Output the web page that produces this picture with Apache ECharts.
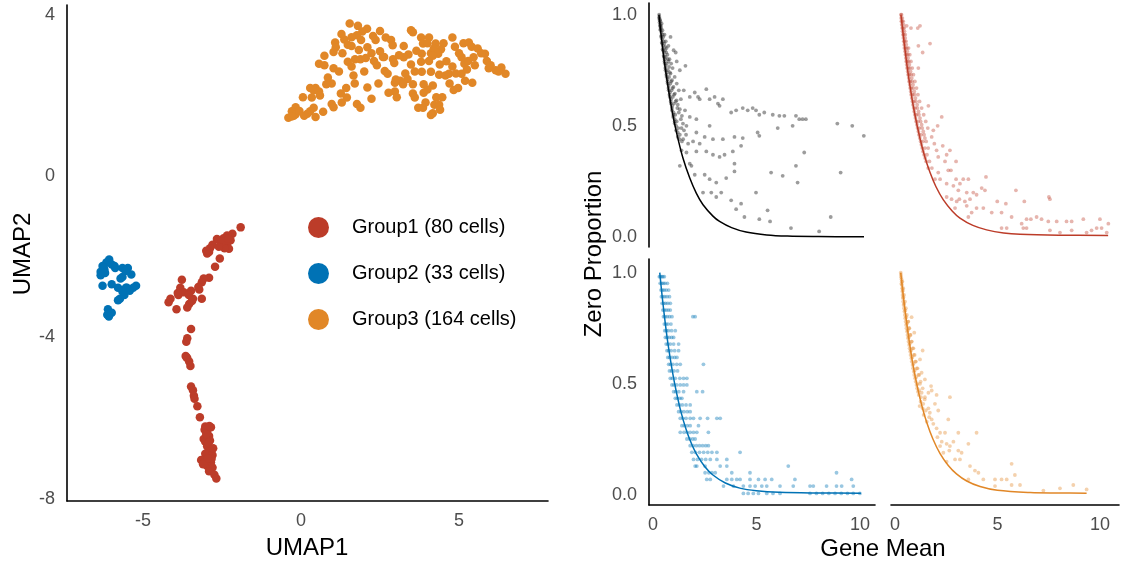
<!DOCTYPE html>
<html><head><meta charset="utf-8">
<script src="https://cdn.jsdelivr.net/npm/echarts@6/dist/echarts.min.js"></script>
<style>html,body{margin:0;padding:0;background:#fff}#c{width:1123px;height:567px}</style>
</head><body><div id="c"></div><script>
// ---------------- DATA ----------------
const groupNames = ['Group1 (80 cells)', 'Group2 (33 cells)', 'Group3 (164 cells)'];
const groupColors = ['#BC3C29', '#0072B5', '#E18727'];
const umapTicksX = [-5, 0, 5];
const umapTicksY = [-8, -4, 0, 4];
const propTicks = [0, 0.5, 1];
const meanTicks = [0, 5, 10];

const umapGroup1 = [
[-1.91,-1.27],[-2.17,-1.43],[-2.34,-1.47],[-2.45,-1.54],[-2.66,-1.56],[-2.23,-1.59],[-2.34,-1.70],[-2.28,-1.80],
[-2.42,-1.79],[-2.80,-1.70],[-2.88,-1.79],[-2.91,-1.88],[-2.97,-1.92],[-2.57,-2.04],[-2.72,-2.25],[-2.91,-2.52],
[-3.08,-2.54],[-3.14,-2.63],[-3.77,-2.57],[-3.82,-2.77],[-3.88,-2.95],[-3.71,-2.88],[-3.48,-2.84],[-3.22,-2.81],
[-3.14,-3.04],[-3.42,-3.04],[-3.54,-3.17],[-3.60,-3.26],[-4.19,-3.13],[-4.13,-3.04],[-3.94,-3.30],[-3.48,-3.79],
[-3.60,-4.02],[-3.63,-4.11],[-3.65,-4.46],[-3.60,-4.51],[-3.54,-4.60],[-3.50,-4.71],[-3.48,-5.22],[-3.42,-5.31],
[-3.39,-5.45],[-3.37,-5.52],[-3.28,-5.71],[-3.20,-5.98],[-3.03,-6.21],[-2.85,-6.23],[-2.97,-6.34],[-2.91,-6.45],
[-3.08,-6.52],[-3.03,-6.59],[-2.88,-6.56],[-2.97,-6.70],[-2.91,-6.83],[-3.03,-6.89],[-2.80,-6.92],[-3.16,-7.04],
[-3.05,-7.10],[-2.85,-7.10],[-2.97,-7.19],[-2.80,-7.23],[-2.91,-7.32],[-2.74,-7.41],[-2.68,-7.50],[-2.83,-7.01],
[-3.05,-6.29],[-2.93,-6.61],[-2.50,-1.62],[-2.60,-1.75],[-3.00,-1.85],[-3.90,-2.90],[-3.55,-2.95],[-3.62,-4.50],
[-3.00,-6.40],[-2.95,-7.00],[-2.90,-6.20],[-2.78,-6.75],[-3.10,-7.15],[-2.30,-1.55],[-3.45,-3.10],[-3.25,-2.75]
];
const umapGroup2 = [
[-6.07,-2.07],[-6.16,-2.14],[-5.99,-2.19],[-6.28,-2.23],[-5.90,-2.23],[-6.22,-2.32],[-6.34,-2.37],[-6.34,-2.46],
[-5.65,-2.28],[-5.48,-2.28],[-5.37,-2.44],[-5.65,-2.50],[-5.71,-2.54],[-5.99,-2.68],[-6.28,-2.72],[-5.79,-2.77],
[-5.51,-2.77],[-5.22,-2.72],[-5.31,-2.77],[-5.42,-2.84],[-5.59,-2.95],[-5.73,-3.04],[-5.79,-3.08],[-6.11,-3.30],
[-5.99,-3.39],[-6.13,-3.44],[-6.08,-3.48],[-6.24,-2.28],[-5.88,-2.28],[-5.54,-2.77],[-5.65,-2.86],[-6.20,-2.40],
[-5.55,-2.35]
];
const umapGroup3 = [
[1.54,3.79],[1.80,3.73],[2.09,3.66],[1.94,3.59],[1.77,3.50],[1.28,3.53],[1.37,3.39],[1.08,3.32],[1.48,3.26],
[2.28,3.48],[2.36,3.38],[2.68,3.44],[2.85,3.38],[3.48,3.62],[3.54,3.57],[3.80,3.44],[4.05,3.44],[3.86,3.29],
[4.26,3.29],[4.51,3.30],[4.79,3.44],[4.43,3.15],[4.87,3.21],[5.14,3.30],[5.31,3.32],[5.40,3.21],[5.59,3.17],
[5.82,3.04],[5.08,2.95],[5.46,2.95],[3.25,3.23],[3.65,3.11],[3.82,3.04],[4.11,3.05],[4.20,3.17],[4.34,3.04],
[3.40,3.02],[3.25,2.95],[2.91,2.90],[2.63,2.96],[2.23,3.05],[1.83,3.13],[1.60,3.23],[1.31,3.05],[1.03,3.08],
[0.74,2.99],[0.57,2.79],[0.74,2.75],[1.03,2.68],[1.48,2.84],[1.71,2.90],[1.88,2.90],[2.05,2.93],[2.31,2.86],
[2.59,2.96],[2.95,2.81],[3.48,2.77],[3.80,2.84],[4.05,2.86],[4.17,2.99],[4.39,2.77],[4.79,2.72],[5.17,2.79],
[5.29,2.86],[5.88,2.86],[5.94,2.68],[6.16,2.63],[6.34,2.70],[6.47,2.54],[1.60,2.72],[1.66,2.50],[2.65,2.61],
[2.74,2.54],[3.82,2.59],[4.11,2.59],[4.37,2.52],[4.57,2.50],[4.68,2.54],[5.08,2.54],[5.19,2.37],[5.42,2.32],
[3.37,2.41],[3.14,2.37],[3.23,2.28],[3.54,2.28],[3.88,2.28],[4.17,2.25],[2.45,2.30],[1.43,2.19],[1.26,2.05],
[0.97,2.30],[0.80,2.28],[0.46,2.19],[0.29,2.19],[0.40,2.13],[0.57,2.10],[0.06,1.96],[0.34,1.95],[2.97,2.10],
[3.03,1.96],[2.77,2.07],[3.54,2.05],[3.88,2.07],[4.28,1.96],[4.47,1.96],[4.83,2.14],[4.97,2.19],[2.23,1.92],
[1.29,1.83],[0.97,1.79],[1.03,1.71],[1.77,1.79],[1.88,1.70],[0.40,1.70],[0.29,1.61],[0.46,1.47],[-0.17,1.71],
[-0.29,1.61],[-0.23,1.50],[-0.40,1.45],[-0.17,1.54],[3.71,1.70],[3.86,1.70],[4.22,1.77],[4.37,1.77],[4.17,1.56],
[4.11,1.52],[3.94,1.83],[2.97,2.32],[0.20,1.55],[-0.05,1.62],[0.10,1.50],[-0.30,1.48],[0.60,2.00],[1.10,3.20],
[1.60,3.45],[2.10,3.20],[2.50,3.10],[2.90,3.25],[3.10,3.00],[3.60,2.60],[4.00,2.15],[4.60,2.85],[4.90,2.55],
[5.50,2.75],[6.00,2.75],[6.25,2.60],[5.70,3.05],[2.00,2.60],[1.20,2.60],[0.85,2.45],[2.40,2.75],[3.30,2.55],
[3.60,1.95],[4.70,2.30],[1.90,3.38],[2.50,3.60],[3.00,2.40],[1.45,1.95],[0.70,1.60],[4.40,1.65],[5.00,3.05],
[5.25,2.65],[4.00,3.30],[2.10,2.20],[1.70,2.30]
];

// Panel: all cells (gray)
const allPoints = [
[0.30,1.0],[0.31,0.99],[0.33,0.98],[0.36,0.97],[0.34,0.95],[0.38,0.95],[0.42,0.96],[0.37,0.93],[0.41,0.92],[0.46,0.93],
[0.40,0.90],[0.44,0.89],[0.50,0.90],[0.56,0.91],[0.45,0.87],[0.49,0.86],[0.55,0.87],[0.62,0.88],[0.49,0.84],[0.53,0.83],
[0.58,0.84],[0.66,0.85],[0.75,0.86],[0.53,0.81],[0.57,0.80],[0.62,0.81],[0.70,0.82],[0.80,0.80],[0.57,0.78],[0.61,0.77],
[0.67,0.78],[0.75,0.79],[0.88,0.78],[0.61,0.75],[0.66,0.74],[0.72,0.75],[0.82,0.74],[0.95,0.76],[0.66,0.72],[0.71,0.71],
[0.78,0.72],[0.88,0.70],[1.05,0.72],[0.71,0.69],[0.76,0.68],[0.84,0.69],[0.95,0.67],[1.15,0.69],[0.76,0.66],[0.82,0.65],
[0.90,0.66],[1.02,0.64],[1.25,0.66],[0.81,0.63],[0.87,0.62],[0.96,0.63],[1.10,0.61],[0.87,0.60],[0.93,0.59],[1.02,0.60],
[1.18,0.58],[0.92,0.57],[0.99,0.56],[1.08,0.55],[1.25,0.56],[0.98,0.54],[1.05,0.53],[1.15,0.52],[1.35,0.53],[1.05,0.51],
[1.12,0.50],[1.22,0.49],[1.12,0.48],[1.20,0.47],[1.30,0.46],[1.20,0.45],[1.28,0.44],[1.40,0.43],
[0.32,0.965],[0.36,0.935],[0.40,0.905],[0.43,0.875],[0.47,0.845],[0.52,0.815],[0.56,0.79],[0.60,0.76],[0.65,0.73],
[0.70,0.70],[0.75,0.67],[0.80,0.64],[0.86,0.61],[0.92,0.58],[0.98,0.55],[1.05,0.52],[0.39,0.94],[0.47,0.91],[0.52,0.88],
[0.59,0.855],[0.64,0.83],[0.72,0.80],[0.78,0.765],[0.85,0.735],[0.92,0.705],[0.99,0.675],[1.06,0.645],[1.14,0.615],
[1.20,0.595],[1.30,0.575],[1.40,0.545],[1.45,0.51],[1.50,0.48],[1.15,0.79],[1.30,0.75],[1.10,0.83],[0.85,0.90],[1.00,0.84],
[1.35,0.62],[1.55,0.57],[1.60,0.46],[1.38,0.49],[0.30,0.985],[0.33,0.975],[0.35,0.955],[0.37,0.945],
[1.57,0.77],[2.58,0.665],[2.02,0.65],[2.18,0.63],[1.49,0.66],[1.78,0.63],[2.26,0.62],[2.74,0.62],[2.98,0.63],[3.14,0.60],
[3.38,0.62],[3.22,0.59],[3.78,0.56],[4.02,0.57],[4.34,0.58],[4.58,0.57],[4.82,0.58],[4.98,0.57],[5.14,0.55],[5.38,0.56],
[5.79,0.55],[6.11,0.545],[6.35,0.545],[6.91,0.545],[7.07,0.53],[7.39,0.53],[8.91,0.51],[9.63,0.50],[10.19,0.455],[6.03,0.49],
[6.75,0.50],[7.23,0.53],[5.06,0.47],[5.14,0.455],[1.78,0.54],[2.10,0.53],[2.74,0.50],[1.62,0.50],[1.70,0.42],[1.94,0.43],
[2.26,0.42],[2.90,0.44],[3.38,0.44],[3.94,0.45],[1.62,0.38],[2.10,0.385],[2.58,0.385],[2.90,0.37],[3.22,0.36],[3.46,0.37],
[3.86,0.385],[3.94,0.33],[4.26,0.41],[4.34,0.445],[1.78,0.33],[2.02,0.28],[2.50,0.28],[2.74,0.26],[3.06,0.245],[3.54,0.265],
[3.94,0.295],[5.71,0.29],[6.27,0.275],[6.99,0.245],[6.91,0.32],[7.31,0.38],[9.07,0.29],[1.86,0.32],[2.42,0.20],[2.82,0.20],
[3.30,0.20],[3.06,0.18],[3.78,0.165],[4.02,0.125],[4.26,0.15],[4.42,0.09],[4.98,0.20],[5.14,0.08],[5.54,0.12],[5.66,0.07],
[6.67,0.04],[8.03,0.025],[8.59,0.09],[1.30,0.32],[1.38,0.39],[1.46,0.44],[2.10,0.47],[2.50,0.45]
];
const allCurve = [[0.29,1.0],[0.4,0.905],[0.55,0.79],[0.74,0.67],[0.95,0.555],[1.14,0.47],[1.45,0.355],[1.78,0.265],[2.1,0.196],
[2.42,0.145],[2.9,0.094],[3.22,0.07],[3.8,0.042],[4.5,0.022],[5.5,0.009],[6.5,0.004],[8,0.002],[10.2,0.001]];

// Panel: Group1 (red)
const g1Points = [
[0.29,1.0],[0.32,1.0],[0.31,0.97],[0.35,0.97],[0.40,0.97],[0.35,0.94],[0.39,0.94],[0.45,0.94],[0.39,0.91],[0.43,0.91],
[0.50,0.91],[0.43,0.88],[0.47,0.88],[0.54,0.88],[0.46,0.85],[0.51,0.85],[0.58,0.85],[0.66,0.85],[0.51,0.82],[0.56,0.82],
[0.63,0.82],[0.72,0.82],[0.55,0.79],[0.60,0.79],[0.67,0.79],[0.78,0.79],[0.59,0.76],[0.65,0.76],[0.72,0.76],[0.84,0.76],
[0.64,0.73],[0.70,0.73],[0.78,0.73],[0.90,0.73],[0.69,0.70],[0.75,0.70],[0.83,0.70],[0.97,0.70],[0.74,0.67],[0.80,0.67],
[0.89,0.67],[1.05,0.67],[0.79,0.64],[0.86,0.64],[0.95,0.64],[1.12,0.64],[0.85,0.61],[0.92,0.61],[1.02,0.61],[1.20,0.61],
[0.91,0.58],[0.98,0.58],[1.09,0.58],[1.30,0.58],[0.97,0.55],[1.05,0.55],[1.17,0.55],[1.40,0.55],[1.03,0.52],[1.12,0.52],
[1.25,0.52],[1.50,0.52],[1.10,0.49],[1.19,0.49],[1.33,0.49],[1.60,0.49],[1.17,0.46],[1.27,0.46],[1.42,0.46],[1.25,0.43],
[1.36,0.43],[1.52,0.43],[1.33,0.40],[1.46,0.40],[1.62,0.40],[1.42,0.37],[1.56,0.37],[1.52,0.34],[1.68,0.34],[1.62,0.31],
[1.80,0.31],
[0.30,0.985],[0.33,0.955],[0.37,0.925],[0.41,0.895],[0.45,0.865],[0.49,0.835],[0.53,0.805],[0.57,0.775],[0.62,0.745],
[0.67,0.715],[0.72,0.685],[0.77,0.655],[0.82,0.625],[0.88,0.595],[0.94,0.565],[1.00,0.535],[1.07,0.505],[1.14,0.475],
[1.21,0.445],[1.29,0.415],[1.37,0.385],[1.47,0.355],[0.36,0.985],[0.42,0.955],[0.46,0.925],[0.50,0.895],[0.55,0.865],
[0.60,0.835],[0.64,0.805],[0.70,0.775],[0.76,0.745],[0.82,0.715],[0.88,0.685],[0.94,0.655],[1.00,0.625],[1.08,0.595],
[1.15,0.565],[1.22,0.535],[1.30,0.505],[1.38,0.475],[1.46,0.445],
[0.57,0.95],[0.78,0.94],[1.11,0.94],[1.22,0.95],[1.71,0.87],[1.14,0.86],[1.35,0.83],[1.14,0.76],[1.63,0.59],[2.28,0.54],
[2.08,0.50],[1.87,0.48],[1.79,0.45],[1.92,0.42],[2.33,0.41],[2.03,0.39],[2.11,0.36],[2.52,0.37],[2.68,0.39],[2.44,0.34],
[2.98,0.34],[2.73,0.30],[2.60,0.30],[2.11,0.29],[1.95,0.26],[2.20,0.26],[2.52,0.24],[2.98,0.26],[3.33,0.26],[3.58,0.26],
[3.17,0.24],[2.85,0.23],[4.44,0.27],[4.23,0.22],[3.09,0.21],[3.50,0.20],[3.82,0.20],[3.98,0.19],[4.39,0.21],[5.90,0.21],
[7.51,0.18],[7.56,0.17],[2.52,0.18],[2.76,0.17],[3.14,0.17],[3.66,0.17],[4.99,0.16],[5.41,0.15],[6.31,0.16],[3.41,0.16],
[3.01,0.16],[3.50,0.14],[3.98,0.13],[4.31,0.13],[4.72,0.11],[5.20,0.11],[5.69,0.09],[6.18,0.06],[6.42,0.08],[6.63,0.08],
[6.91,0.09],[7.15,0.08],[7.48,0.07],[7.89,0.07],[8.37,0.07],[8.62,0.07],[9.19,0.08],[10.0,0.08],[10.41,0.06],[5.45,0.04],
[6.26,0.04],[5.20,0.04],[6.42,0.04],[7.56,0.03],[8.05,0.02],[8.62,0.03],[9.35,0.02],[9.59,0.03],[9.84,0.04],[10.08,0.04],
[10.33,0.02],[3.58,0.09],[3.74,0.11],[2.93,0.13]
];
const g1Curve = [[0.29,1.0],[0.45,0.87],[0.6,0.762],[0.73,0.68],[0.95,0.56],[1.22,0.443],[1.45,0.362],[1.71,0.29],[2.0,0.226],
[2.36,0.167],[2.8,0.116],[3.17,0.085],[3.8,0.052],[4.47,0.032],[5.3,0.018],[6.1,0.012],[8,0.008],[10.4,0.007]];

// Panel: Group2 (blue) - rows of [zero proportion, gene means]
const g2Rows = [
[0.982,[0.31,0.36,0.42,0.48,0.55]],
[0.952,[0.35,0.42,0.50,0.58,0.70]],
[0.922,[0.39,0.46,0.54,0.64,0.76]],
[0.892,[0.41,0.48,0.57,0.68,0.80]],
[0.862,[0.44,0.52,0.61,0.72,0.84]],
[0.832,[0.48,0.55,0.64,0.74,0.84]],
[0.802,[0.51,0.58,0.68,0.80,0.92,1.93,2.04]],
[0.769,[0.55,0.63,0.72,0.87]],
[0.739,[0.57,0.65,0.75,0.90,1.08]],
[0.709,[0.60,0.68,0.78,0.90,1.00]],
[0.679,[0.64,0.72,0.84,1.00,1.24]],
[0.649,[0.68,0.76,0.88,1.05,1.24]],
[0.619,[0.72,0.80,0.92,1.05,1.16]],
[0.588,[0.76,0.85,0.97,1.15,1.32,2.44]],
[0.558,[0.80,0.90,1.02,1.19]],
[0.525,[0.84,0.94,1.08,1.30,1.48,1.64]],
[0.495,[0.92,1.02,1.15,1.32,1.48,1.64]],
[0.465,[1.00,1.10,1.25,1.48,2.12,2.40]],
[0.435,[1.08,1.18,1.30,1.40]],
[0.405,[1.16,1.28,1.42,1.60,1.80]],
[0.375,[1.24,1.36,1.50,1.66,1.80]],
[0.345,[1.32,1.45,1.60,1.80,1.96,2.28,2.64,3.09,3.25]],
[0.312,[1.40,1.52,1.66,1.80,2.20]],
[0.282,[1.32,1.50,1.65,1.80,1.96,2.12,2.68]],
[0.252,[1.64,1.78,1.92,2.04]],
[0.222,[1.80,1.95,2.10,2.25,2.40,2.55,2.68]],
[0.192,[1.88,2.05,2.25,2.45,2.65,2.85,3.09,4.21]],
[0.160,[1.96,2.15,2.35,2.55,2.77,3.09,3.57]],
[0.130,[2.04,2.12,2.52,3.25,3.57,6.54]],
[0.100,[2.52,2.70,2.85,3.01,3.81,4.69,8.87]],
[0.070,[2.60,2.77,3.57,3.81,4.05,4.21,4.69,5.10,5.42,5.74,6.86,9.60]],
[0.040,[3.41,3.89,4.37,4.69,4.94,5.26,5.50,6.14,6.78,7.59,7.75,8.39,8.87,9.12,9.68]],
[0.007,[4.37,4.60,4.85,5.10,5.50,5.80,6.14,7.59,7.90,8.20,8.50,8.80,9.10,9.40,9.68,10.0]]
];
const g2Curve = [[0.33,1.0],[0.45,0.89],[0.6,0.77],[0.74,0.672],[0.95,0.55],[1.14,0.46],[1.35,0.375],[1.62,0.29],[1.85,0.234],
[2.1,0.185],[2.5,0.128],[2.9,0.09],[3.5,0.054],[4.2,0.031],[5.0,0.019],[6.1,0.012],[8,0.009],[10.05,0.008]];

// Panel: Group3 (orange)
const g3Points = [
[0.28,1.0],[0.30,0.98],[0.33,0.96],[0.31,0.95],[0.35,0.93],[0.38,0.92],[0.37,0.90],[0.41,0.89],[0.40,0.87],[0.45,0.86],
[0.44,0.84],[0.50,0.83],[0.48,0.81],[0.55,0.80],[0.52,0.78],[0.58,0.77],[0.65,0.78],[0.56,0.75],[0.62,0.74],[0.70,0.75],
[0.61,0.72],[0.67,0.71],[0.76,0.72],[0.66,0.69],[0.72,0.68],[0.82,0.69],[0.71,0.66],[0.78,0.65],[0.90,0.66],[0.76,0.63],
[0.84,0.62],[0.96,0.63],[0.82,0.60],[0.90,0.59],[1.02,0.60],[0.88,0.57],[0.96,0.56],[1.10,0.57],[0.94,0.54],[1.03,0.53],
[1.18,0.54],[1.01,0.51],[1.10,0.50],[1.25,0.51],[1.08,0.48],[1.18,0.47],[1.35,0.48],[1.16,0.45],[1.27,0.44],[1.25,0.42],
[1.38,0.41],[1.35,0.39],[1.50,0.38],
[0.29,0.99],[0.32,0.97],[0.34,0.945],[0.36,0.915],[0.39,0.885],[0.42,0.855],[0.46,0.825],[0.50,0.795],[0.54,0.765],
[0.59,0.735],[0.64,0.705],[0.69,0.675],[0.74,0.645],[0.80,0.615],[0.86,0.585],[0.92,0.555],[0.98,0.525],[1.05,0.495],
[1.12,0.465],[0.36,0.96],[0.40,0.93],[0.44,0.90],[0.49,0.87],[0.53,0.84],[0.58,0.81],[0.63,0.78],[0.68,0.75],[0.74,0.72],
[0.80,0.69],[0.86,0.66],[0.92,0.63],[0.99,0.60],[1.06,0.57],[1.14,0.54],[1.22,0.50],[1.30,0.46],[1.45,0.43],[1.20,0.40],
[1.40,0.36],[1.55,0.33],[1.70,0.37],
[0.81,0.80],[0.94,0.73],[1.35,0.65],[1.22,0.61],[1.30,0.55],[1.46,0.52],[1.76,0.49],[1.63,0.46],[2.03,0.45],[2.68,0.44],
[1.95,0.41],[2.11,0.38],[1.63,0.39],[1.79,0.34],[1.87,0.32],[2.03,0.30],[2.60,0.34],[2.20,0.28],[2.44,0.28],[3.09,0.28],
[3.98,0.28],[2.28,0.24],[2.52,0.23],[2.68,0.22],[2.20,0.22],[3.58,0.23],[3.09,0.20],[3.25,0.19],[2.52,0.15],[3.66,0.13],
[3.90,0.11],[4.07,0.10],[4.31,0.07],[3.58,0.07],[4.88,0.07],[5.20,0.07],[5.45,0.07],[5.69,0.14],[5.85,0.09],[5.69,0.045],
[4.88,0.04],[6.10,0.045],[7.24,0.02],[8.05,0.03],[8.70,0.045],[9.35,0.025],[2.93,0.16],[3.17,0.16],[2.36,0.19],[1.79,0.47],
[1.46,0.44],[1.67,0.35],[2.07,0.26],[2.65,0.20],[2.85,0.24]
];
const g3Curve = [[0.28,1.0],[0.45,0.86],[0.65,0.72],[0.85,0.60],[1.06,0.50],[1.3,0.405],[1.55,0.326],[1.85,0.252],[2.2,0.186],
[2.6,0.133],[3.0,0.095],[3.5,0.063],[4.15,0.038],[5.0,0.021],[6.6,0.011],[8,0.009],[9.35,0.008]];

// ---------------- CHART ----------------
const FONT = '"Liberation Sans", Arial, sans-serif';
const chart = echarts.init(document.getElementById('c'), null, {renderer: 'canvas'});
const axisLine = {show: true, onZero: false, lineStyle: {color: '#000', width: 1.6}};
const labelStyle = {color: '#4d4d4d', fontSize: 18, fontFamily: FONT};

function xAx(gi, min, max, showLine, ticks) {
  return {type: 'value', gridIndex: gi, min, max, splitLine: {show: false},
    axisLine: showLine ? axisLine : {show: false}, axisTick: {show: false},
    axisLabel: ticks ? Object.assign({customValues: ticks, margin: 11}, labelStyle) : {show: false}};
}
function yAx(gi, min, max, showLine, ticks, fmt) {
  return {type: 'value', gridIndex: gi, min, max, splitLine: {show: false},
    axisLine: showLine ? axisLine : {show: false}, axisTick: {show: false},
    axisLabel: ticks ? Object.assign({customValues: ticks, margin: 12, formatter: fmt}, labelStyle) : {show: false}};
}
const f1 = v => v.toFixed(1);
const fi = v => String(v);

const g2Points = [];
g2Rows.forEach(r => r[1].forEach(x => g2Points.push([x, r[0]])));

function pts(name, data, color, op, xi) {
  return {type: 'scatter', name, xAxisIndex: xi, yAxisIndex: xi, data, symbolSize: 3.8,
    itemStyle: {color, opacity: op}, silent: true};
}
function crv(data, color, xi) {
  return {type: 'line', xAxisIndex: xi, yAxisIndex: xi, data, smooth: 0.35, showSymbol: false,
    lineStyle: {color, width: 1.5}, silent: true, z: 5};
}
const titleFont = '24px ' + FONT;

chart.setOption({
  animation: false,
  backgroundColor: '#fff',
  grid: [
    {left: 67, top: 5, width: 481, height: 496},
    {left: 649, top: 3, width: 226, height: 244},
    {left: 891, top: 3, width: 228, height: 244},
    {left: 649, top: 259, width: 226, height: 246},
    {left: 891, top: 259, width: 228, height: 246}
  ],
  xAxis: [
    xAx(0, -7.405, 7.815, true, umapTicksX),
    xAx(1, -0.19, 10.73, false, null),
    xAx(2, -0.195, 10.93, false, null),
    xAx(3, -0.19, 10.73, true, meanTicks),
    xAx(4, -0.195, 10.93, true, meanTicks)
  ],
  yAxis: [
    yAx(0, -8.06, 4.248, true, umapTicksY, fi),
    yAx(1, -0.045, 1.0526, true, propTicks, f1),
    yAx(2, -0.045, 1.0526, false, null),
    yAx(3, -0.045, 1.0616, true, propTicks, f1),
    yAx(4, -0.045, 1.0616, false, null)
  ],
  legend: {
    data: groupNames, orient: 'vertical', left: 303, top: 212, icon: 'circle',
    itemWidth: 21, itemHeight: 21, itemGap: 25, selectedMode: false,
    itemStyle: {opacity: 1},
    textStyle: {fontSize: 20, color: '#000', fontFamily: FONT, padding: [0, 0, 0, 18]}
  },
  graphic: [
    {type: 'text', x: 307, y: 548, style: {text: 'UMAP1', align: 'center', verticalAlign: 'middle', font: titleFont, fill: '#000'}},
    {type: 'text', x: 23, y: 254, rotation: Math.PI / 2, style: {text: 'UMAP2', align: 'center', verticalAlign: 'middle', font: titleFont, fill: '#000'}},
    {type: 'text', x: 594, y: 254, rotation: Math.PI / 2, style: {text: 'Zero Proportion', align: 'center', verticalAlign: 'middle', font: titleFont, fill: '#000'}},
    {type: 'text', x: 883, y: 549, style: {text: 'Gene Mean', align: 'center', verticalAlign: 'middle', font: titleFont, fill: '#000'}}
  ],
  series: [
    {type: 'scatter', name: groupNames[0], xAxisIndex: 0, yAxisIndex: 0, data: umapGroup1, symbolSize: 8.5, itemStyle: {color: groupColors[0], opacity: 1}},
    {type: 'scatter', name: groupNames[1], xAxisIndex: 0, yAxisIndex: 0, data: umapGroup2, symbolSize: 8.5, itemStyle: {color: groupColors[1], opacity: 1}},
    {type: 'scatter', name: groupNames[2], xAxisIndex: 0, yAxisIndex: 0, data: umapGroup3, symbolSize: 8.5, itemStyle: {color: groupColors[2], opacity: 1}},
    pts('all', allPoints, '#3a3a3a', 0.5, 1),
    crv(allCurve, '#000', 1),
    pts('g1', g1Points, groupColors[0], 0.38, 2),
    crv(g1Curve, groupColors[0], 2),
    pts('g2', g2Points, groupColors[1], 0.4, 3),
    crv(g2Curve, groupColors[1], 3),
    pts('g3', g3Points, groupColors[2], 0.38, 4),
    crv(g3Curve, groupColors[2], 4)
  ]
});
</script></body></html>
